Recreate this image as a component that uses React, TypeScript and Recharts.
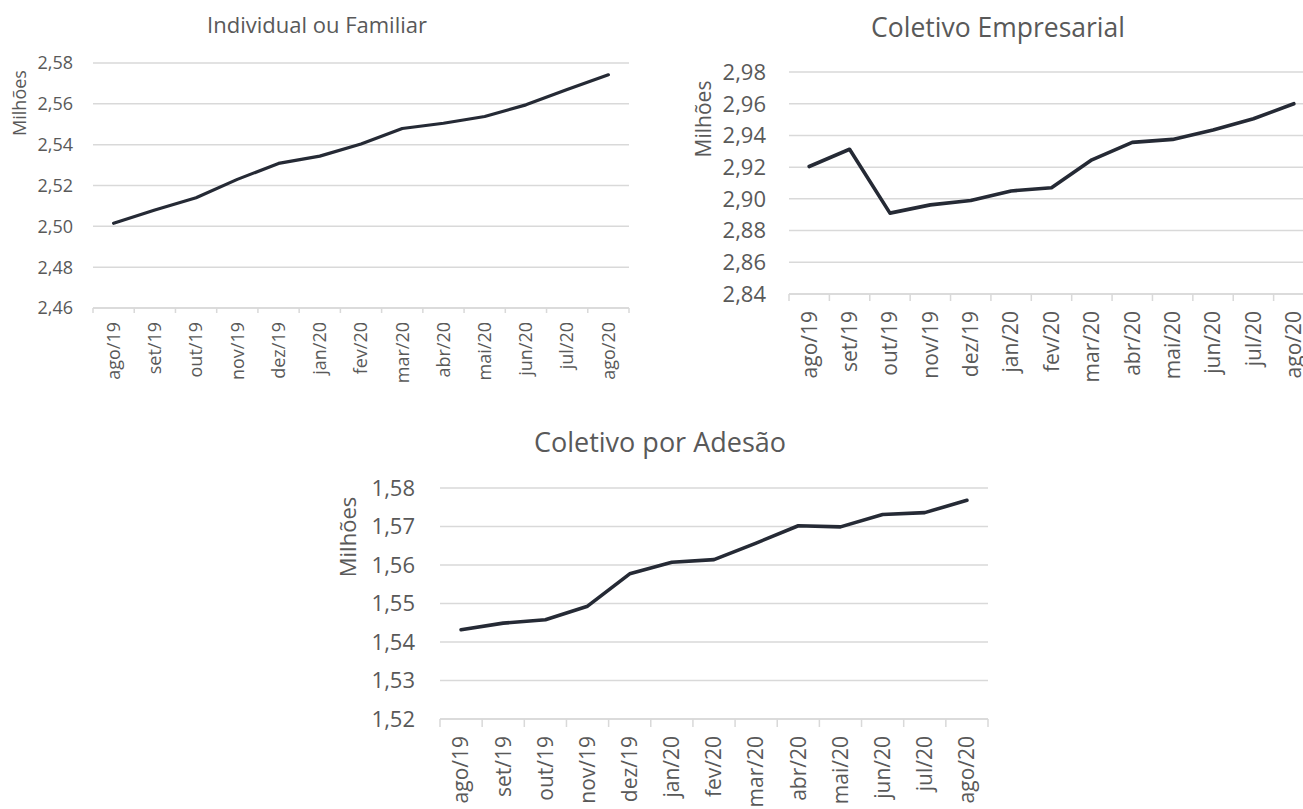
import { LineChart, Line, XAxis, YAxis, CartesianGrid } from "recharts";

// months shared by the three panels
const MONTHS = [
  "ago/19", "set/19", "out/19", "nov/19", "dez/19", "jan/20", "fev/20",
  "mar/20", "abr/20", "mai/20", "jun/20", "jul/20", "ago/20",
];

// beneficiaries, in millions
const INDIVIDUAL = [2.5015, 2.508, 2.514, 2.523, 2.5308, 2.5344, 2.5403, 2.5479, 2.5505, 2.5538, 2.5595, 2.567, 2.5742];
const EMPRESARIAL = [2.9204, 2.9313, 2.891, 2.8962, 2.899, 2.905, 2.907, 2.9246, 2.9356, 2.9375, 2.9434, 2.9505, 2.96];
const ADESAO = [1.5432, 1.5449, 1.5458, 1.5493, 1.5577, 1.5607, 1.5614, 1.5657, 1.5702, 1.5699, 1.5731, 1.5736, 1.5768];

const TICKS_IND = [2.46, 2.48, 2.5, 2.52, 2.54, 2.56, 2.58];
const TICKS_EMP = [2.84, 2.86, 2.88, 2.9, 2.92, 2.94, 2.96, 2.98];
const TICKS_ADE = [1.52, 1.53, 1.54, 1.55, 1.56, 1.57, 1.58];

const TITLES = ["Individual ou Familiar", "Coletivo Empresarial", "Coletivo por Adesão"];
const Y_LABEL = "Milhões";

const FONT = "'Open Sans', sans-serif";
const TEXT = "#595959";
const GRID = "#d9d9d9";
const LINE = "#252a35";

const fmt = (v: number) => v.toFixed(2).replace(".", ",");

interface Box {
  left: number;
  top: number;
  width: number;
  height: number;
  plotTop: number;
  plotBottom: number;
  yAxisW: number;
  marginRight: number;
  yGap: number;
  tickLen: number;
  labelGap: number;
  fsY: number;
  fsX: number;
  lineW: number;
}

const Panel = ({ values, yTicks, box }: { values: number[]; yTicks: number[]; box: Box }) => {
  const data = MONTHS.map((m, i) => ({ i, m, v: values[i] }));
  const plotW = box.width - box.yAxisW - box.marginRight;
  const step = plotW / MONTHS.length;

  // category separators + rotated month label
  const renderTick = (props: any) => {
    const { x, y, payload } = props;
    const i = payload.value as number;
    const ly = y + box.labelGap;
    return (
      <g>
        <line x1={x - step / 2} x2={x - step / 2} y1={y} y2={y + box.tickLen} stroke={GRID} strokeWidth={1.5} />
        {i === MONTHS.length - 1 && (
          <line x1={x + step / 2} x2={x + step / 2} y1={y} y2={y + box.tickLen} stroke={GRID} strokeWidth={1.5} />
        )}
        <text
          x={x}
          y={ly}
          dy="0.35em"
          transform={`rotate(-90 ${x} ${ly})`}
          textAnchor="end"
          fill={TEXT}
          fontSize={box.fsX}
          fontFamily={FONT}
        >
          {MONTHS[i]}
        </text>
      </g>
    );
  };

  return (
    <div style={{ position: "absolute", left: box.left, top: box.top }}>
      <LineChart
        width={box.width}
        height={box.height}
        data={data}
        margin={{ top: box.plotTop, right: box.marginRight, bottom: 0, left: 0 }}
      >
        <CartesianGrid vertical={false} stroke={GRID} strokeWidth={1.5} />
        <XAxis
          dataKey="i"
          type="number"
          domain={[-0.5, MONTHS.length - 0.5]}
          ticks={MONTHS.map((_, i) => i)}
          interval={0}
          height={box.height - box.plotBottom}
          axisLine={{ stroke: GRID, strokeWidth: 1.5 }}
          tickLine={false}
          tickSize={0}
          tickMargin={0}
          tick={renderTick}
        />
        <YAxis
          type="number"
          domain={[yTicks[0], yTicks[yTicks.length - 1]]}
          ticks={yTicks}
          interval={0}
          width={box.yAxisW}
          axisLine={false}
          tickLine={false}
          tickSize={0}
          tickMargin={box.yGap}
          tickFormatter={fmt}
          tick={{ fill: TEXT, fontSize: box.fsY, fontFamily: FONT }}
        />
        <Line
          type="linear"
          dataKey="v"
          stroke={LINE}
          strokeWidth={box.lineW}
          strokeLinejoin="round"
          strokeLinecap="round"
          dot={false}
          activeDot={false}
          isAnimationActive={false}
        />
      </LineChart>
    </div>
  );
};

const BOX_IND: Box = {
  left: 0, top: 0, width: 650, height: 400, plotTop: 63, plotBottom: 308,
  yAxisW: 93, marginRight: 21, yGap: 20, tickLen: 5, labelGap: 14, fsY: 18, fsX: 18, lineW: 3.2,
};
const BOX_EMP: Box = {
  left: 650, top: 0, width: 664, height: 400, plotTop: 72, plotBottom: 294,
  yAxisW: 139, marginRight: 0, yGap: 23, tickLen: 7, labelGap: 17, fsY: 22, fsX: 21, lineW: 3.6,
};
const BOX_ADE: Box = {
  left: 300, top: 400, width: 700, height: 409, plotTop: 88, plotBottom: 319,
  yAxisW: 140, marginRight: 12, yGap: 25, tickLen: 8, labelGap: 17, fsY: 22, fsX: 21, lineW: 3.6,
};

export default function App() {
  return (
    <div
      style={{
        position: "absolute",
        left: 0,
        top: 0,
        width: 1303,
        height: 809,
        overflow: "hidden",
        background: "#fff",
        fontFamily: FONT,
      }}
    >
      <Panel values={INDIVIDUAL} yTicks={TICKS_IND} box={BOX_IND} />
      <Panel values={EMPRESARIAL} yTicks={TICKS_EMP} box={BOX_EMP} />
      <Panel values={ADESAO} yTicks={TICKS_ADE} box={BOX_ADE} />

      {/* titles and axis names */}
      <svg width={1303} height={809} style={{ position: "absolute", left: 0, top: 0, pointerEvents: "none" }}>
        <g fill={TEXT} fontFamily={FONT} textAnchor="middle">
          <text x={317} y={33} fontSize={22}>{TITLES[0]}</text>
          <text x={998} y={37} fontSize={26.5}>{TITLES[1]}</text>
          <text x={660} y={452} fontSize={27}>{TITLES[2]}</text>
          <text x={20} y={103} dy="0.35em" fontSize={18} transform="rotate(-90 20 103)">{Y_LABEL}</text>
          <text x={704} y={119} dy="0.35em" fontSize={21} transform="rotate(-90 704 119)">{Y_LABEL}</text>
          <text x={348} y={537} dy="0.35em" fontSize={22} transform="rotate(-90 348 537)">{Y_LABEL}</text>
        </g>
      </svg>
    </div>
  );
}
